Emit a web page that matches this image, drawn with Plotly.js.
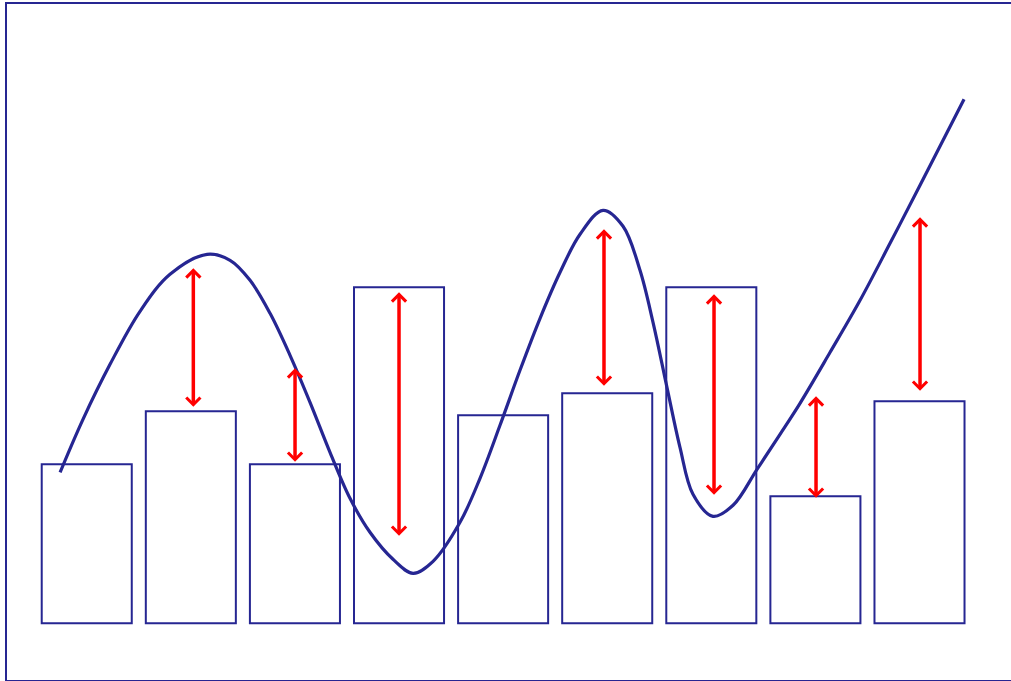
<!DOCTYPE html>
<html>
<head>
<meta charset="utf-8">
<script src="https://cdn.plot.ly/plotly-3.0.1.min.js"></script>
<style>
  html, body { margin: 0; padding: 0; background: #fff; }
  #chart { width: 1011px; height: 681px; }
</style>
</head>
<body>
<div id="chart"></div>
<script>
// bars (category index -> height)
const barX = [0, 1, 2, 3, 4, 5, 6, 7, 8];
const barY = [15.9, 21.2, 15.9, 33.6, 20.8, 23.0, 33.6, 12.7, 22.2];

// smooth curve, points
const curveX = [-0.256, -0.036, 0.224, 0.512, 0.800, 1.156, 1.377, 1.569, 1.761, 1.953, 2.145, 2.337, 2.529,
                2.721, 2.942, 3.135, 3.327, 3.586, 3.778, 3.970, 4.162, 4.355, 4.547, 4.739, 4.960, 5.152,
                5.315, 5.440, 5.574, 5.699, 5.824, 6.016, 6.209, 6.439, 6.660, 6.852, 7.141, 7.429, 7.717,
                8.005, 8.428];
const curveY = [15.1, 20.4, 25.9, 31.2, 34.9, 36.9, 36.3, 34.3, 31.0, 26.8, 22.1, 17.1, 12.5,
                9.1, 6.4, 5.0, 6.2, 10.1, 14.5, 19.8, 25.3, 30.5, 35.1, 38.9, 41.3, 39.7,
                35.3, 30.1, 23.6, 17.6, 12.9, 10.7, 11.8, 15.4, 18.9, 22.0, 27.1, 32.3, 38.0,
                43.8, 52.4];

// red double arrows (residuals)
const arrowX = [1.024, 2.001, 3.0, 4.969, 6.026, 7.006, 8.005];
const arrowTop = [35.5, 25.5, 33.1, 39.4, 32.9, 22.7, 40.6];
const arrowBottom = [21.5, 16.0, 8.6, 23.6, 12.7, 12.4, 23.1];

const navy = '#262692';

const traces = [
    {
        type: 'bar',
        x: barX,
        y: barY,
        marker: { color: 'rgba(0,0,0,0)', line: { color: navy, width: 2 } },
        showlegend: false,
        hoverinfo: 'skip',
    },
    {
        type: 'scatter',
        x: curveX,
        y: curveY,
        mode: 'lines',
        line: { color: navy, width: 3.2, shape: 'spline', smoothing: 1 },
        showlegend: false,
        hoverinfo: 'skip',
    },
];

const annotations = arrowX.map((x, i) => ({
    x: x, y: arrowTop[i],
    ax: x, ay: arrowBottom[i],
    xref: 'x', yref: 'y', axref: 'x', ayref: 'y',
    text: '',
    showarrow: true,
    arrowside: 'end+start',
    arrowhead: 4, startarrowhead: 4,
    arrowsize: 0.78, startarrowsize: 0.78,
    arrowwidth: 3.5,
    arrowcolor: '#ff0000',
    standoff: 0, startstandoff: 0,
}));

Plotly.newPlot('chart', traces, {
    width: 1011,
    height: 681,
    margin: { l: 7, r: 0, t: 4, b: 1 },
    bargap: 0.135,
    xaxis: {
        range: [-0.766, 8.879],
        autorange: false,
        showgrid: false, zeroline: false, showticklabels: false, ticks: '',
        showline: true, mirror: true, linecolor: navy, linewidth: 2,
    },
    yaxis: {
        range: [-5.67, 61.93],
        autorange: false,
        showgrid: false, zeroline: false, showticklabels: false, ticks: '',
        showline: true, linecolor: navy, linewidth: 2,
    },
    annotations: annotations,
    paper_bgcolor: '#fff',
    plot_bgcolor: '#fff',
}, { staticPlot: true, displayModeBar: false });
</script>
</body>
</html>
